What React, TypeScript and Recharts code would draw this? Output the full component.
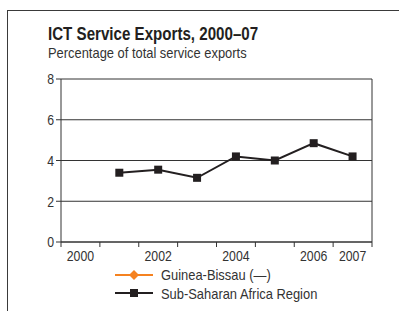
import { LineChart, Line, XAxis, YAxis, CartesianGrid, ReferenceLine } from 'recharts';

const years = [2000, 2001, 2002, 2003, 2004, 2005, 2006, 2007];
const guineaBissau: (number | null)[] = [null, null, null, null, null, null, null, null];
const subSaharan: (number | null)[] = [null, 3.4, 3.55, 3.15, 4.2, 4.0, 4.85, 4.2];
const yTicks = [0, 2, 4, 6, 8];
const xLabelTicks = [2000, 2002, 2004, 2006, 2007];
const xBoundaryTicks = [1999.5, 2000.5, 2001.5, 2002.5, 2003.5, 2004.5, 2005.5, 2006.5, 2007.5];
const seriesNames = ['Guinea-Bissau (\u2014)', 'Sub-Saharan Africa Region'];

const data = years.map((y, i) => ({ year: y, gb: guineaBissau[i], ssa: subSaharan[i] }));

// no condensed font installed, so squeeze Liberation Sans
const FONT = "'Liberation Sans', Arial, sans-serif";
const SQ = 0.82;
const narrow = (s: number) => ({ transform: `scaleX(${s})`, transformOrigin: 'left top' } as const);

const NarrowTick = (props: any) => {
  const { x, y, payload, textAnchor, dy } = props;
  return (
    <text
      x={x}
      y={y}
      dy={dy ?? '0.355em'}
      textAnchor={textAnchor}
      fill="#333"
      fontSize={15}
      fontFamily={FONT}
      transform={`translate(${x},0) scale(${SQ},1) translate(${-x},0)`}
    >
      {payload.value}
    </text>
  );
};

const XLabelTick = (props: any) => <NarrowTick {...props} textAnchor="middle" dy="0.71em" />;
const YLabelTick = (props: any) => <NarrowTick {...props} textAnchor="end" dy="0.355em" />;

const Square = (props: any) => {
  const { cx, cy, value } = props;
  if (value == null || cx == null) return <g key={props.index} />;
  return <rect key={props.index} x={cx - 4} y={cy - 4} width={8} height={8} fill="#231f20" />;
};

export default function App() {
  return (
    <div style={{ position: 'absolute', left: 0, top: 0, width: 399, height: 311, background: '#fff', fontFamily: FONT }}>
      <div style={{ position: 'absolute', left: 7, top: 10, width: 392, height: 301, borderTop: '1.5px solid #3a3a3a', borderLeft: '1.5px solid #3a3a3a' }} />
      <div style={{ position: 'absolute', left: 48, top: 24, fontSize: 18, fontWeight: 'bold', color: '#231f20', whiteSpace: 'nowrap', ...narrow(0.84) }}>
        ICT Service Exports, 2000–07
      </div>
      <div style={{ position: 'absolute', left: 48, top: 44, fontSize: 15, color: '#333', whiteSpace: 'nowrap', ...narrow(0.86) }}>
        Percentage of total service exports
      </div>
      <div style={{ position: 'absolute', left: 0, top: 0 }}>
        <LineChart width={399} height={311} data={data} margin={{ top: 79, right: 27, left: 0, bottom: 34 }}>
          <CartesianGrid horizontal vertical={false} stroke="#333" strokeOpacity={1} />
          <XAxis
            xAxisId="b"
            dataKey="year"
            type="number"
            domain={[1999.5, 2007.5]}
            ticks={xBoundaryTicks}
            tickFormatter={() => ''}
            tickSize={5}
            height={5}
            stroke="#333"
            interval={0}
          />
          <XAxis
            xAxisId="l"
            dataKey="year"
            type="number"
            domain={[1999.5, 2007.5]}
            ticks={xLabelTicks}
            axisLine={false}
            tickLine={false}
            tickSize={0}
            tickMargin={3}
            height={30}
            interval={0}
            tick={XLabelTick}
          />
          <YAxis
            domain={[0, 8]}
            ticks={yTicks}
            width={61}
            tickSize={5}
            tickMargin={2}
            stroke="#333"
            tick={YLabelTick}
          />
          <ReferenceLine xAxisId="b" x={2007.5} stroke="#333" />
          <Line xAxisId="b" dataKey="gb" stroke="#f58220" strokeWidth={2} isAnimationActive={false} dot={false} />
          <Line xAxisId="b" dataKey="ssa" stroke="#231f20" strokeWidth={2} isAnimationActive={false} dot={Square} />
        </LineChart>
      </div>
      <svg style={{ position: 'absolute', left: 114, top: 266 }} width={42} height={36}>
        <line x1={1} x2={39} y1={9} y2={9} stroke="#f58220" strokeWidth={2} />
        <polygon points="20,4 25,9 20,14 15,9" fill="#f58220" />
        <line x1={1} x2={39} y1={27} y2={27} stroke="#231f20" strokeWidth={2} />
        <rect x={16} y={23} width={8} height={8} fill="#231f20" />
      </svg>
      <div style={{ position: 'absolute', left: 161, top: 265, fontSize: 15, color: '#333', lineHeight: '19px', whiteSpace: 'nowrap', ...narrow(0.86) }}>
        <div>{seriesNames[0]}</div>
        <div>{seriesNames[1]}</div>
      </div>
    </div>
  );
}
